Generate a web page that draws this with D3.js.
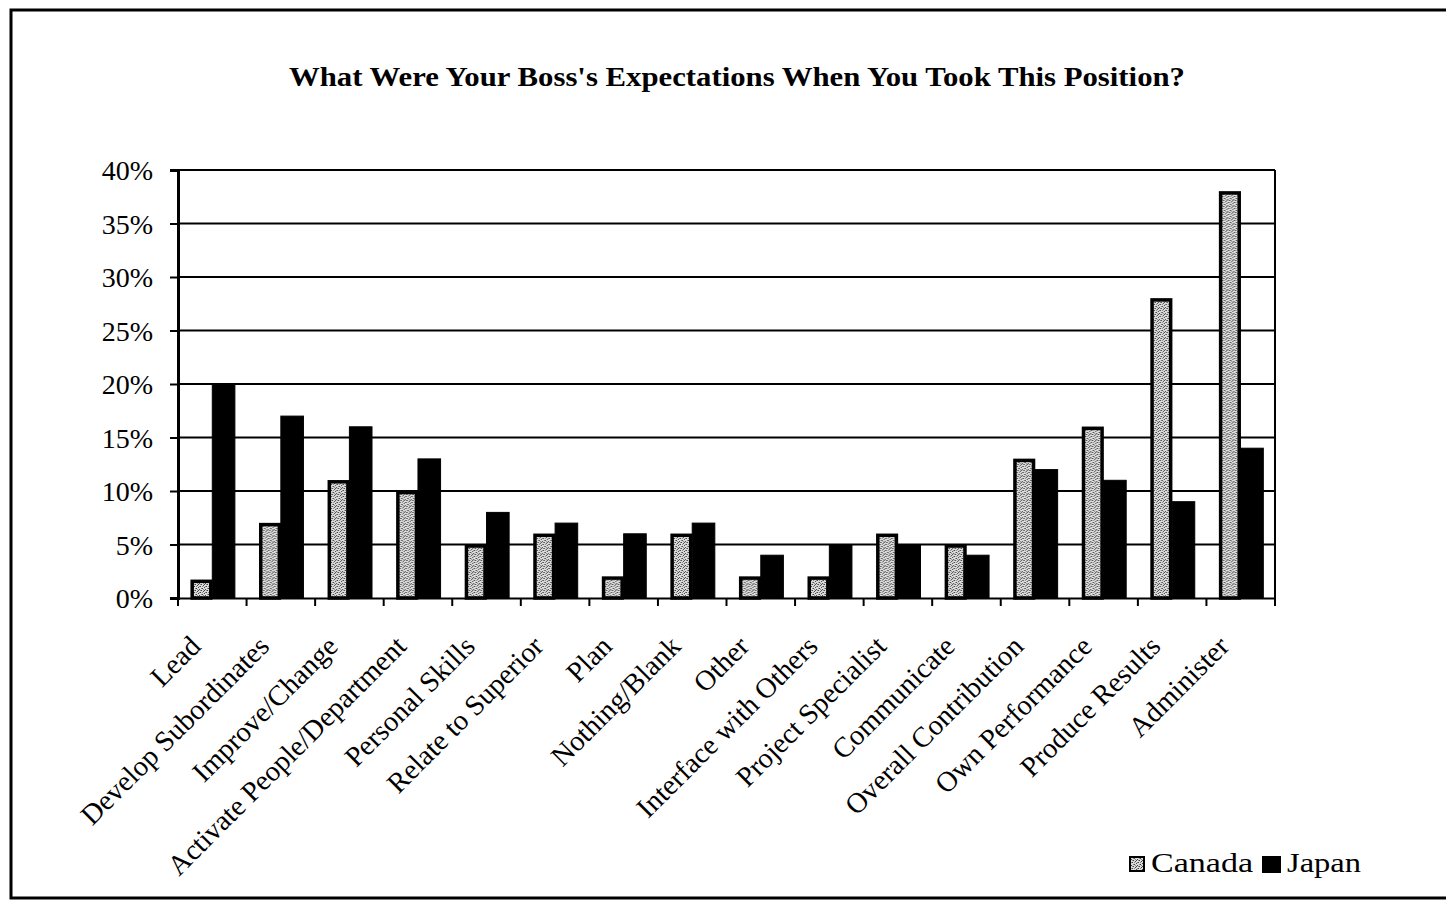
<!DOCTYPE html>
<html><head><meta charset="utf-8">
<script src="https://cdn.jsdelivr.net/npm/d3@7"></script>
<style>html,body{margin:0;padding:0;background:#fff;}svg{display:block;}</style>
</head><body>
<svg id="chart" width="1446" height="901"></svg>
<script>
const categories = ["Lead","Develop Subordinates","Improve/Change","Activate People/Department","Personal Skills","Relate to Superior","Plan","Nothing/Blank","Other","Interface with Others","Project Specialist","Communicate","Overall Contribution","Own Performance","Produce Results","Administer"];
const canada = [1.7,7,11,10,5,6,2,6,2,2,6,5,13,16,28,38];
const japan  = [20,17,16,13,8,7,6,7,4,5,5,4,12,11,9,14];
const seriesNames = ["Canada","Japan"];
const yTicks = [0,5,10,15,20,25,30,35,40];
const titleText = "What Were Your Boss's Expectations When You Took This Position?";

const svg = d3.select("#chart");
const serif = "'Liberation Serif','Times New Roman',serif";

// pattern for Canada bars
const defs = svg.append("defs");
const pat = defs.append("pattern").attr("id","speck").attr("width",6).attr("height",6).attr("patternUnits","userSpaceOnUse");
pat.append("rect").attr("width",6).attr("height",6).attr("fill","#dcdcdc");
[[0,0],[3,1],[1,3],[4,4],[2,5],[5,2],[2,2]].forEach(([a,b])=>pat.append("rect").attr("x",a).attr("y",b).attr("width",1).attr("height",1).attr("fill","#444"));
[[1,1],[4,2],[0,4],[3,4],[5,0]].forEach(([a,b])=>pat.append("rect").attr("x",a).attr("y",b).attr("width",1).attr("height",1).attr("fill","#888"));

// outer frame
svg.append("rect").attr("x",11).attr("y",10).attr("width",1460).attr("height",888)
  .attr("fill","none").attr("stroke","#000").attr("stroke-width",3);

// title
svg.append("text").attr("x",289).attr("y",86).attr("textLength",896).attr("lengthAdjust","spacingAndGlyphs")
  .attr("font-family",serif).attr("font-weight","bold").attr("font-size",27).text(titleText);

const L=178, R=1275, T=170, B=598;
const x = d3.scaleBand().domain(categories).range([L,R]).padding(0);
const bw = x.bandwidth();
const x1 = d3.scaleBand().domain(seriesNames).range([bw*0.185, bw*0.815]).padding(0);
const y = d3.scaleLinear().domain([0,40]).range([B,T]);

// gridlines
svg.append("g").selectAll("line").data(yTicks.filter(d=>d>0)).join("line")
  .attr("x1",L).attr("x2",R).attr("y1",d=>y(d)).attr("y2",d=>y(d))
  .attr("stroke","#000").attr("stroke-width",2);
// right frame
svg.append("line").attr("x1",R).attr("x2",R).attr("y1",T).attr("y2",B).attr("stroke","#000").attr("stroke-width",2);

// y axis
const yAxis = d3.axisLeft(y).tickValues(yTicks).tickFormat(d=>d+"%").tickSize(8).tickPadding(17);
const gy = svg.append("g").attr("transform",`translate(${L},0)`).call(yAxis);
gy.select(".domain").attr("stroke","#000").attr("stroke-width",3);
gy.selectAll(".tick line").attr("stroke","#000").attr("stroke-width",2);
gy.selectAll(".tick text").attr("font-family",serif).attr("font-size",28).attr("fill","#000").attr("dy","0.34em");

// bars
const data = categories.map((c,i)=>({c, vals:[{s:"Canada",v:canada[i]},{s:"Japan",v:japan[i]}]}));
const grp = svg.append("g").selectAll("g").data(data).join("g").attr("transform",d=>`translate(${x(d.c)},0)`);
grp.selectAll("rect").data(d=>d.vals).join("rect")
  .attr("x",d=>x1(d.s)+(d.s==="Canada"?1.5:0))
  .attr("y",d=>y(d.v)+(d.s==="Canada"?1.5:0))
  .attr("width",d=>x1.bandwidth()-(d.s==="Canada"?3:-1))
  .attr("height",d=>B-y(d.v)-(d.s==="Canada"?1.5:0))
  .attr("fill",d=>d.s==="Canada"?"url(#speck)":"#000")
  .attr("stroke","#000").attr("stroke-width",d=>d.s==="Canada"?3.5:1);

// x axis
const xAxis = d3.axisBottom(x).tickSize(0).tickFormat("");
const gx = svg.append("g").attr("transform",`translate(0,${B})`).call(xAxis);
gx.select(".domain").attr("stroke","#000").attr("stroke-width",2);
const bounds = categories.map(c=>x(c)).concat([R]);
svg.append("g").selectAll("line").data(bounds).join("line")
  .attr("x1",d=>d).attr("x2",d=>d).attr("y1",B).attr("y2",B+8).attr("stroke","#000").attr("stroke-width",2);

// x labels
svg.append("g").selectAll("text").data(categories).join("text")
  .attr("transform",d=>`translate(${x(d)+bw/2-10},${B+50}) rotate(-45)`)
  .attr("text-anchor","end").attr("font-family",serif).attr("font-size",28.5)
  .text(d=>d);

// legend
const lg = svg.append("g");
lg.append("rect").attr("x",1130).attr("y",857).attr("width",14).attr("height",14).attr("fill","url(#speck)").attr("stroke","#000").attr("stroke-width",2);
lg.append("text").attr("x",1151).attr("y",872).attr("font-family",serif).attr("font-size",27).attr("textLength",102).attr("lengthAdjust","spacingAndGlyphs").text(seriesNames[0]);
lg.append("rect").attr("x",1262).attr("y",856).attr("width",19).attr("height",17).attr("fill","#000");
lg.append("text").attr("x",1287).attr("y",872).attr("font-family",serif).attr("font-size",27).attr("textLength",74).attr("lengthAdjust","spacingAndGlyphs").text(seriesNames[1]);
</script>
</body></html>
